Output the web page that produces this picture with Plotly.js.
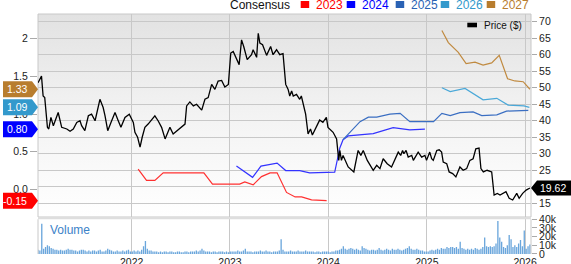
<!DOCTYPE html>
<html><head><meta charset="utf-8">
<script src="https://cdn.plot.ly/plotly-3.0.1.min.js"></script>
<style>
html,body{margin:0;padding:0;background:#fff;}
#wrap{position:relative;width:571px;height:264px;overflow:hidden;}
#bg{position:absolute;left:38px;top:14px;width:493px;height:203px;background:linear-gradient(#e2e2e2,#f3f3f3 50%,#ffffff);}
#chart{position:absolute;left:0;top:0;width:571px;height:264px;}
</style></head>
<body><div id="wrap"><div id="bg"></div><div id="chart"></div></div>
<script>
// ---------- DATA ----------
const priceDates = ['2021-01-18','2021-01-31','2021-02-06','2021-02-12','2021-02-22','2021-02-27','2021-03-07','2021-03-16','2021-04-03','2021-04-16','2021-05-05','2021-05-17','2021-05-29','2021-06-11','2021-06-23','2021-06-29','2021-07-11','2021-07-24','2021-08-05','2021-08-18','2021-09-05','2021-09-17','2021-09-24','2021-10-04','2021-10-16','2021-10-31','2021-11-12','2021-11-22','2021-12-07','2021-12-23',
'2022-01-07','2022-01-13','2022-01-23','2022-02-01','2022-02-09','2022-02-19','2022-03-03','2022-03-16','2022-03-28','2022-04-09','2022-04-22','2022-05-05','2022-05-23','2022-06-04','2022-06-25','2022-07-18','2022-07-24','2022-08-05','2022-08-18','2022-08-30','2022-09-18','2022-09-30','2022-10-12','2022-10-25','2022-11-06','2022-11-18','2022-12-01','2022-12-13','2022-12-26',
'2023-01-04','2023-01-13','2023-01-23','2023-02-04','2023-02-13','2023-02-21','2023-03-06','2023-03-22','2023-03-28','2023-04-10','2023-04-16','2023-04-22','2023-05-02','2023-05-17','2023-06-01','2023-06-10','2023-06-23','2023-07-05','2023-07-17','2023-07-27','2023-08-05','2023-08-11','2023-08-18','2023-08-24','2023-09-05','2023-09-17','2023-09-23','2023-10-09','2023-10-18','2023-10-27','2023-11-03','2023-11-18','2023-11-30','2023-12-12','2023-12-25','2023-12-31',
'2024-01-19','2024-02-01','2024-02-09','2024-02-13','2024-02-19','2024-02-25','2024-03-15','2024-04-05','2024-04-21','2024-05-01','2024-05-10','2024-05-25','2024-06-16','2024-06-29','2024-07-11','2024-07-23','2024-08-07','2024-08-23','2024-09-17','2024-09-26','2024-10-03','2024-10-08','2024-10-16','2024-10-24','2024-11-06','2024-11-12','2024-11-30','2024-12-13','2024-12-25','2024-12-31',
'2025-01-12','2025-01-19','2025-01-25','2025-02-07','2025-02-16','2025-02-25','2025-03-03','2025-03-16','2025-03-25','2025-04-07','2025-04-19','2025-05-04','2025-05-16','2025-05-29','2025-06-10','2025-06-22','2025-07-02','2025-07-14','2025-07-21','2025-07-30','2025-08-13','2025-08-30','2025-09-08','2025-09-20','2025-09-30','2025-10-22','2025-11-03','2025-11-16','2025-12-01','2025-12-10','2025-12-23','2026-01-05','2026-01-19'];
const priceValues = [51.5,53.5,47.5,47,38,37.5,41,38.5,42.5,38,37.5,36.8,37.5,39.5,40,38.5,37,41.5,42,40,46.5,44,41.5,37,39.5,42.5,40,38,41,42,
39.5,36.5,35,32,35,38,39,40.5,41.5,40,38,34.5,38,36,37.5,39,44.5,45.7,44.5,45,43.2,46.5,47,51,49.5,52,52.2,50.2,51,
60.5,61,59,57,64.5,62.5,58.5,60,61.5,59.2,66.5,63.5,63,59.8,62.5,60,61.5,60,60.3,51,49.5,47.5,49,47.5,48,46.5,47.5,42,36,37.5,35.7,38,40.2,39.5,41,38,
36.5,34.5,28,31,28,29.5,26,24.5,31,29.5,31,28,25,26.5,25.5,28.5,27,26,30.5,29.5,31,30,31,29,29.5,28,30.5,29,29.5,28,
30.5,28.5,28,31,31.2,30.5,27.5,27,24.5,24,23,26,25,25.5,28,28.5,31.5,31.7,25.5,24.5,25,24.5,17.5,18,17.5,18.5,16.5,16,18,16.5,18,19,19.62];

const eps2023Dates = ['2022-01-25','2022-02-25','2022-03-28','2022-04-28','2022-09-26','2022-10-28','2023-02-06','2023-02-25','2023-03-28','2023-04-28','2023-05-30','2023-06-25','2023-07-30','2023-08-31','2023-09-24','2023-10-31','2023-12-26'];
const eps2023 = [0.27,0.12,0.12,0.22,0.22,0.07,0.07,0.10,0.06,0.17,0.22,0.22,-0.04,-0.10,-0.10,-0.14,-0.15];

const eps2024Dates = ['2023-01-25','2023-03-26','2023-04-26','2023-06-25','2023-07-27','2023-09-17','2023-10-24','2024-01-25','2024-02-13','2024-02-25','2024-03-15','2024-06-16','2024-08-29','2024-10-30','2024-12-25'];
const eps2024 = [0.31,0.16,0.31,0.35,0.25,0.25,0.22,0.23,0.55,0.66,0.71,0.74,0.82,0.79,0.80];

const eps2025Dates = ['2024-02-25','2024-04-28','2024-05-29','2024-06-29','2024-08-17','2024-09-24','2024-10-30','2025-01-26','2025-02-26','2025-03-29','2025-05-04','2025-06-22','2025-07-24','2025-09-18','2025-10-24','2026-01-13'];
const eps2025 = [0.66,0.90,0.96,0.96,1.00,1.01,0.90,0.90,1.01,0.98,1.02,1.03,0.98,0.99,1.04,1.05];

const eps2026Dates = ['2025-02-26','2025-03-29','2025-05-23','2025-06-22','2025-07-29','2025-09-18','2025-10-30','2025-12-28','2026-01-17'];
const eps2026 = [1.35,1.30,1.34,1.27,1.19,1.21,1.12,1.11,1.09];

const eps2027Dates = ['2025-02-26','2025-03-22','2025-04-28','2025-05-27','2025-06-29','2025-07-29','2025-08-30','2025-09-27','2025-10-28','2025-11-24','2025-12-25','2026-01-19'];
const eps2027 = [2.11,1.95,1.82,1.67,1.69,1.65,1.68,1.78,1.47,1.44,1.43,1.33];

// weekly volume (thousands), first week starting 2021-01-18
const volumeStart = '2021-01-18';
const volumeK = [
5,4,35,6,8,10,9,7,6,5,5,4,5,4,4,5,6,5,5,4,4,3,4,5,5,4,3,4,3,4,4,3,4,5,3,3,4,6,5,4,3,3,4,3,3,4,3,4,5,3,3,4,
3,4,3,5,9,15,6,4,4,3,3,3,2,3,2,3,3,2,3,3,2,2,3,3,2,2,3,3,2,3,3,3,4,3,4,6,4,3,3,3,2,3,3,2,3,3,3,2,3,2,3,3,
3,3,4,3,3,4,6,3,3,3,2,3,3,3,4,3,3,4,3,3,2,3,3,3,4,17,5,3,3,3,4,3,3,3,4,3,3,3,4,3,3,3,3,2,3,3,2,3,3,3,3,2,
3,3,4,4,5,6,9,6,5,6,7,6,5,6,5,4,9,7,6,5,4,5,5,4,5,7,5,4,5,6,5,4,6,5,5,6,5,4,5,6,7,9,6,5,5,6,5,4,4,3,3,3,
4,5,4,5,6,5,7,6,6,8,7,8,8,7,8,6,14,7,6,5,6,5,6,5,7,6,5,6,8,19,9,8,9,8,9,12,38,19,14,8,7,10,22,17,8,10,8,12,16,9,27,6,
9,11];

const years = ['2023','2024','2025','2026','2027'];
const yearColors = ['#ff0000','#0000ff','#2a62b4','#3399cc','#b87d2e'];
const lineColors = ['#ff3030','#3333ff','#3a6ec2','#4aa8d8','#c08a40'];
const epsTickVals = [0,0.5,1,1.5,2];
const epsTickText = ['0.0','0.5','1.0','1.5','2'];
const volTickVals = [0,10,20,30,40];
const volTickText = ['0','10k','20k','30k','40k'];

// ---------- CHART ----------
const FONT = 'Arial, "Liberation Sans", sans-serif';
const epsX = [eps2023Dates,eps2024Dates,eps2025Dates,eps2026Dates,eps2027Dates];
const epsY = [eps2023,eps2024,eps2025,eps2026,eps2027];

const traces = [];
traces.push({type:'bar', x0:volumeStart, dx:7*24*3600*1000, y:volumeK, xaxis:'x', yaxis:'y3',
  marker:{color:'#6aa6dc', line:{width:0}}, hoverinfo:'skip'});
epsX.forEach((xs,i)=>{
  traces.push({type:'scatter', mode:'lines', x:xs, y:epsY[i], xaxis:'x', yaxis:'y',
    line:{color:lineColors[i], width:1.2}, hoverinfo:'skip'});
});
traces.push({type:'scatter', mode:'lines', x:priceDates, y:priceValues, xaxis:'x', yaxis:'y2',
  line:{color:'#000', width:1.3}, hoverinfo:'skip'});

const shapes = [];
const annotations = [];
// panel separator and borders
shapes.push({type:'rect', xref:'paper', yref:'paper', x0:0, x1:1, y0:0.1446, y1:0.1542, fillcolor:'#dedede', line:{width:0}, layer:'above'});
shapes.push({type:'rect', xref:'paper', yref:'paper', x0:0, x1:1, y0:0.1542, y1:1, line:{color:'#c8c8c8', width:1}, layer:'below'});
shapes.push({type:'line', xref:'paper', yref:'paper', x0:0, x1:0, y0:0, y1:0.1446, line:{color:'#c8c8c8', width:1}});
shapes.push({type:'line', xref:'paper', yref:'paper', x0:1, x1:1, y0:0, y1:0.1446, line:{color:'#c8c8c8', width:1}});

// left EPS value labels (latest consensus for years with a label)
const labelIdx = [4,3,1,0];
labelIdx.forEach(i=>{
  const arr = epsY[i];
  const v = arr[arr.length-1];
  shapes.push({type:'path', xref:'paper', yref:'y', xsizemode:'pixel', ysizemode:'pixel', xanchor:0, yanchor:v,
    path:'M-35,-8L-6,-8L0,0L-6,8L-35,8Z', fillcolor:yearColors[i], line:{width:0}, layer:'above'});
  annotations.push({xref:'paper', yref:'y', x:0, y:v, xshift:(v<0?-23:-21), showarrow:false, text:v.toFixed(2),
    font:{family:FONT, size:10.5, color:'#fff'}, xanchor:'center', yanchor:'middle'});
});
// right last price label
const lastPrice = priceValues[priceValues.length-1];
shapes.push({type:'path', xref:'paper', yref:'y2', xsizemode:'pixel', ysizemode:'pixel', xanchor:1, yanchor:lastPrice,
  path:'M0,0L6,-7.5L40,-7.5L40,7.5L6,7.5Z', fillcolor:'#000', line:{width:0}, layer:'above'});
annotations.push({xref:'paper', yref:'y2', x:1, y:lastPrice, xshift:22, showarrow:false, text:lastPrice.toFixed(2),
  font:{family:FONT, size:10.5, color:'#fff'}, xanchor:'center', yanchor:'middle'});

// top legend
annotations.push({xref:'paper', yref:'paper', x:0, y:1, xshift:190.3, yshift:9, xanchor:'left', yanchor:'middle', showarrow:false,
  text:'Consensus', font:{family:FONT, size:12, color:'#111'}});
const sqX = [262.7,308.7,357.7,402.7,448.7];
years.forEach((yr,i)=>{
  shapes.push({type:'rect', xref:'paper', yref:'paper', xsizemode:'pixel', ysizemode:'pixel', xanchor:0, yanchor:1,
    x0:sqX[i], x1:sqX[i]+8.5, y0:6, y1:13, fillcolor:yearColors[i], line:{width:0}});
  annotations.push({xref:'paper', yref:'paper', x:0, y:1, xshift:sqX[i]+13.5, yshift:9, xanchor:'left', yanchor:'middle', showarrow:false,
    text:yr, font:{family:FONT, size:12, color:yearColors[i]}});
});
// price legend
shapes.push({type:'rect', xref:'paper', yref:'paper', xsizemode:'pixel', ysizemode:'pixel', xanchor:1, yanchor:1,
  x0:-63.7, x1:-54, y0:-8.7, y1:-13.3, fillcolor:'#000', line:{width:0}, layer:'above'});
annotations.push({xref:'paper', yref:'paper', x:1, y:1, xshift:-48.7, yshift:-11.5, xanchor:'left', yanchor:'middle', showarrow:false,
  text:'Price ($)', font:{family:FONT, size:10, color:'#111'}});
// volume label
annotations.push({xref:'paper', yref:'paper', x:0, y:0.1446, xshift:10, yshift:-2, xanchor:'left', yanchor:'top', showarrow:false,
  text:'Volume', font:{family:FONT, size:12, color:'#3c82c8'}});

const tickFont = {family:FONT, size:10.5, color:'#222'};
const layout = {
  width:571, height:264, autosize:false,
  margin:{l:38, r:40, t:14, b:10, pad:0},
  paper_bgcolor:'rgba(0,0,0,0)', plot_bgcolor:'rgba(0,0,0,0)',
  showlegend:false, bargap:0.3,
  font:{family:FONT, size:10.5, color:'#222'},
  xaxis:{type:'date', range:['2021-01-18','2026-01-23'], domain:[0,1], anchor:'y3',
    showgrid:true, gridcolor:'#c8c8c8', gridwidth:1, tick0:'2022-01-01', dtick:'M12', tickformat:'%Y',
    ticks:'', tickfont:tickFont, showline:false, zeroline:false},
  yaxis:{domain:[0.1542,1], range:[-0.3665,2.3293], side:'left', tickvals:epsTickVals, ticktext:epsTickText,
    ticks:'outside', ticklen:7, tickcolor:'#aaa', showgrid:false, zeroline:false, showline:false, tickfont:tickFont},
  yaxis2:{overlaying:'y', side:'right', anchor:'x', range:[10.85,72.33], tick0:0, dtick:5,
    showgrid:true, gridcolor:'#c8c8c8', ticks:'outside', ticklen:5, tickcolor:'#aaa', zeroline:false, showline:false, tickfont:tickFont},
  yaxis3:{domain:[0,0.1446], range:[0,40], side:'right', anchor:'x', tickvals:volTickVals, ticktext:volTickText,
    ticks:'outside', ticklen:5, tickcolor:'#aaa', showgrid:false, zeroline:false, showline:false, tickfont:tickFont},
  shapes:shapes, annotations:annotations
};
Plotly.newPlot('chart', traces, layout, {displayModeBar:false, staticPlot:true});
</script>
</body></html>
